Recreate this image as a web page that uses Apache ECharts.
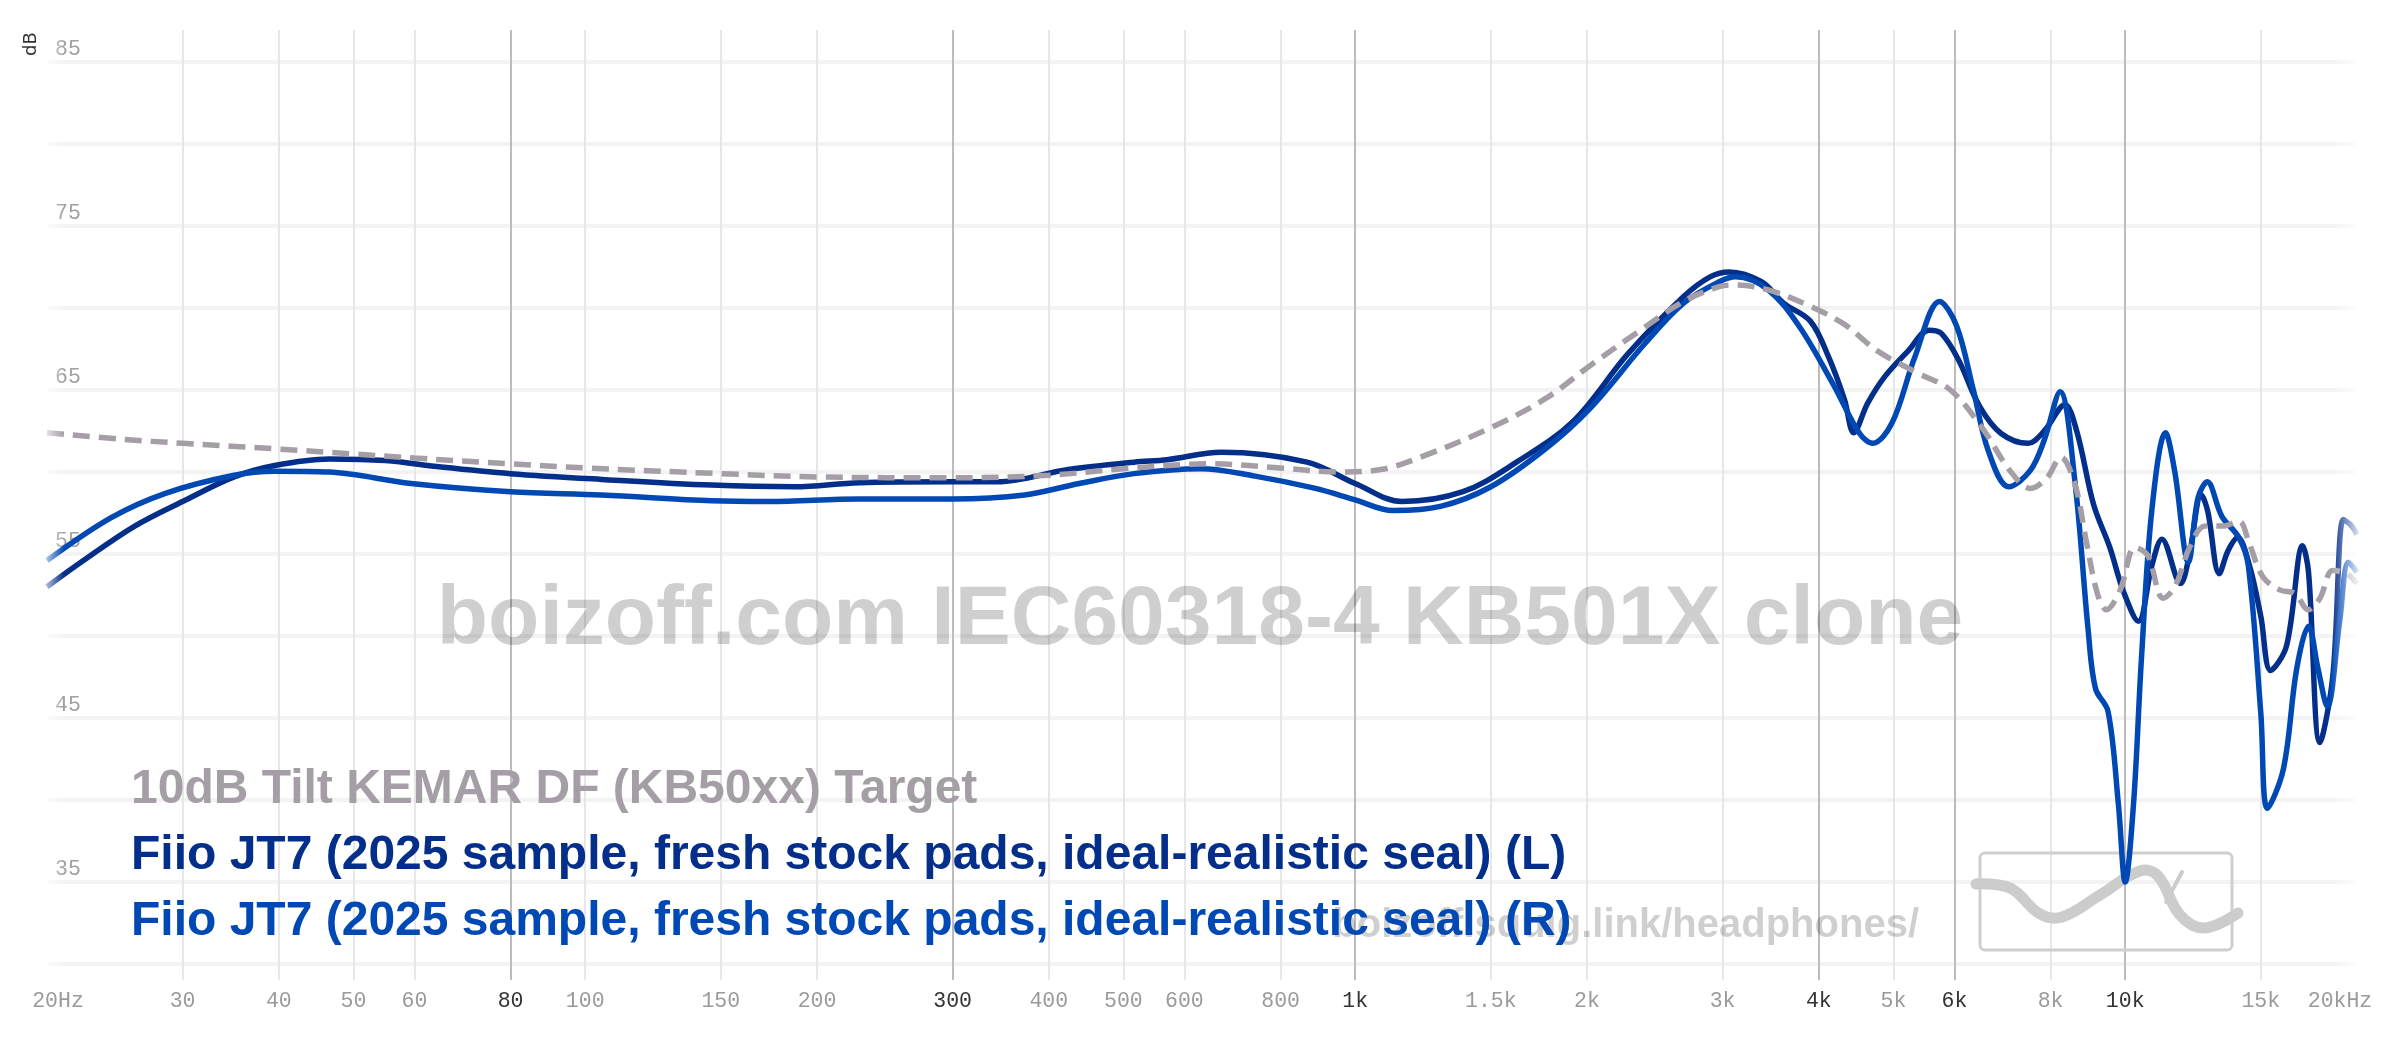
<!DOCTYPE html>
<html><head><meta charset="utf-8">
<script src="https://cdn.jsdelivr.net/npm/echarts@6/dist/echarts.min.js"></script>
<style>html,body{margin:0;padding:0;background:#fff}#c{width:2400px;height:1038px}</style>
</head><body><div id="c"></div>
<script>
// ---- data ----
const targetName = '10dB Tilt KEMAR DF (KB50xx) Target';
const leftName = 'Fiio JT7 (2025 sample, fresh stock pads, ideal-realistic seal) (L)';
const rightName = 'Fiio JT7 (2025 sample, fresh stock pads, ideal-realistic seal) (R)';

const targetFreq = [20,25,30,40,50,60,80,100,150,200,300,400,500,650,800,950,1080,1230,1500,1770,2020,2340,2670,2970,3100,3440,3900,4320,4760,5390,5930,6540,7080,7530,7900,8250,8600,8900,9200,9450,9850,10300,10700,11200,11600,12150,12700,13400,14050,14500,15100,15900,16600,17300,17900,18600,19400,20000];
const targetDb   = [62.4,62.0,61.75,61.4,61.1,60.85,60.5,60.25,59.9,59.7,59.65,59.8,60.2,60.5,60.25,60.0,60.15,61.0,62.7,64.5,66.5,68.6,70.4,71.3,71.4,71.1,70.1,69.0,67.4,66.0,65.0,62.6,60.1,59.0,59.6,60.9,59.3,55.8,52.6,51.6,52.8,55.4,54.9,52.3,53.0,55.5,56.7,56.7,57.0,55.6,53.6,52.8,52.6,51.6,52.3,54.0,53.8,53.2];

const leftFreq = [20,22.3,26,30,35,39.5,46.5,55,65,80,105,146,187,227,300,343,424,516,570,670,866,1000,1150,1380,1620,1920,2260,2670,2890,3060,3370,3600,3900,4120,4320,4440,4630,4870,5230,5560,5770,6080,6470,6900,7480,7850,8350,8650,9100,9550,9950,10400,10830,11160,11800,12100,12560,12800,13250,13600,14000,14500,15000,15450,16200,17000,17300,17900,18600,19200,19600,20000];
const leftDb   = [53.0,54.6,56.7,58.2,59.7,60.4,60.8,60.7,60.3,59.9,59.55,59.2,59.1,59.35,59.4,59.4,60.15,60.6,60.75,61.2,60.6,59.3,58.2,58.8,60.6,63.1,67.2,70.7,71.9,72.2,71.6,70.3,69.2,67.0,64.4,62.4,64.2,65.8,67.4,68.65,68.45,66.8,64.0,62.35,61.75,62.5,64.1,62.5,58.0,55.4,52.7,50.9,54.3,55.9,53.2,54.8,58.6,57.6,53.8,55.2,56.0,54.3,51.2,47.9,49.4,55.5,53.9,43.5,47.5,57.1,56.8,56.2];

const rightFreq = [20,24.2,28.5,35,39.5,46.5,59.4,80,105,146,173,227,300,372,438,516,630,741,888,1000,1120,1290,1500,1770,2020,2380,2670,2970,3120,3440,3770,4170,4520,4700,4980,5330,5740,6040,6350,6640,7060,7530,7850,8230,8600,8950,9150,9500,9800,10000,10250,10500,10830,11280,11600,12080,12430,12780,13350,14050,14450,15000,15300,16050,16700,17300,17800,18300,19000,19500,20000];
const rightDb   = [54.6,57.2,58.7,59.8,60.05,60.0,59.3,58.8,58.6,58.25,58.2,58.35,58.35,58.6,59.3,59.9,60.2,59.75,59.0,58.3,57.65,57.9,59.1,61.45,63.9,67.85,70.3,71.6,71.9,71.1,68.9,65.4,62.35,61.75,63.0,67.0,70.4,68.9,65.0,61.3,59.1,60.1,61.95,64.9,59.5,50.4,46.8,45.4,39.7,35.0,39.7,48.7,57.7,62.4,60.0,54.5,58.4,59.4,57.3,56.0,54.3,45.3,39.5,41.9,48.0,50.6,48.0,45.7,51.0,54.5,53.9];

const gridTicksMinor = [30,40,50,60,100,150,200,400,500,600,800,1500,2000,3000,5000,8000,15000];
const gridTicksMajor = [80,300,1000,4000,6000,10000];
const labelFreqsMinor = [20,30,40,50,60,100,150,200,400,500,600,800,1500,2000,3000,5000,8000,15000,20000];
const labelFreqsMajor = [80,300,1000,4000,6000,10000];
const labelFreqs = [20,30,40,50,60,80,100,150,200,300,400,500,600,800,1000,1500,2000,3000,4000,5000,6000,8000,10000,15000,20000];
const labelTexts = ['20Hz','30','40','50','60','80','100','150','200','300','400','500','600','800','1k','1.5k','2k','3k','4k','5k','6k','8k','10k','15k','20kHz'];
const yMin = 30, yMax = 85, yStep = 5;

// ---- helpers ----
function pairs(f, d) { return f.map((v, i) => [v, d[i]]); }
function freqLabel(v) {
  let best = 0, bd = Infinity;
  labelFreqs.forEach((f, i) => { const dd = Math.abs(Math.log(v / f)); if (dd < bd) { bd = dd; best = i; } });
  const t = labelTexts[best];
  if (best === 0) return '{l|' + t + '}';
  if (best === labelFreqs.length - 1) return '{r|' + t + '}';
  return t;
}
const monoFont = '"Liberation Mono", "DejaVu Sans Mono", monospace';
const monoSize = 21.5;
const sansBold = '"Liberation Sans", Arial, sans-serif';
const gray = '#a59ea7', navy = '#032e8a', blue = '#0049b5';

const chart = echarts.init(document.getElementById('c'), null, { renderer: 'canvas' });
const edgeRich = (col) => ({
  l: { padding: [0, 0, 0, 22], fontFamily: monoFont, fontSize: monoSize, color: col },
  r: { padding: [0, 34, 0, 0], fontFamily: monoFont, fontSize: monoSize, color: col }
});
const fadeL = { type: 'linear', x: 0, y: 0, x2: 1, y2: 0, colorStops: [{ offset: 0, color: 'rgba(255,255,255,1)' }, { offset: 1, color: 'rgba(255,255,255,0)' }] };
const fadeR = { type: 'linear', x: 0, y: 0, x2: 1, y2: 0, colorStops: [{ offset: 0, color: 'rgba(255,255,255,0)' }, { offset: 1, color: 'rgba(255,255,255,1)' }] };

chart.setOption({
  animation: false,
  backgroundColor: '#ffffff',
  grid: [
    { left: 47, right: 43, top: 62, bottom: 74 },
    { left: 47, right: 43, top: 30, bottom: 58 }
  ],
  xAxis: [
    { type: 'log', gridIndex: 0, min: 20, max: 20000, show: false },
    { type: 'log', gridIndex: 1, position: 'bottom', min: 20, max: 20000,
      axisLine: { show: false }, splitLine: { show: false }, minorTick: { show: false },
      axisTick: { show: true, inside: true, length: 950, customValues: gridTicksMinor, lineStyle: { color: '#e7e7e7', width: 2 } },
      axisLabel: { show: true, customValues: labelFreqsMinor, margin: 10, fontFamily: monoFont, fontSize: monoSize, color: '#9a9a9a', formatter: freqLabel, rich: edgeRich('#9a9a9a') } },
    { type: 'log', gridIndex: 1, position: 'bottom', min: 20, max: 20000,
      axisLine: { show: false }, splitLine: { show: false }, minorTick: { show: false },
      axisTick: { show: true, inside: true, length: 950, customValues: gridTicksMajor, lineStyle: { color: '#bcbcbc', width: 2 } },
      axisLabel: { show: true, customValues: labelFreqsMajor, margin: 10, fontFamily: monoFont, fontSize: monoSize, color: '#333333', formatter: freqLabel } }
  ],
  yAxis: [
    { type: 'value', gridIndex: 0, min: yMin, max: yMax, interval: yStep,
      axisLine: { show: false }, axisTick: { show: false },
      splitLine: { show: true, lineStyle: { color: '#f3f3f3', width: 4 } },
      axisLabel: { inside: true, margin: 8, align: 'left', verticalAlign: 'bottom', padding: [0, 0, 2, 0],
        fontFamily: monoFont, fontSize: monoSize, color: '#a0a0a0',
        formatter: (v) => (v % 10 === 5 ? String(v) : '') } },
    { type: 'value', gridIndex: 1, min: 0, max: 1, show: false }
  ],
  legend: {
    orient: 'vertical', left: 121, top: 761, itemGap: 18, icon: 'none', itemWidth: 0, itemHeight: 20,
    selectedMode: false,
    textStyle: { fontFamily: sansBold, fontWeight: 'bold', fontSize: 48 },
    data: [
      { name: targetName, textStyle: { color: gray } },
      { name: leftName, textStyle: { color: navy } },
      { name: rightName, textStyle: { color: blue } }
    ]
  },
  graphic: [
    { type: 'text', x: 31, y: 44, rotation: Math.PI / 2, z: 5,
      style: { text: 'dB', fontFamily: '"DejaVu Sans", sans-serif', fontSize: 18, fill: '#333', align: 'center', verticalAlign: 'middle' } },
    { type: 'text', x: 1200, y: 621, z: 1,
      style: { text: 'boizoff.com IEC60318-4 KB501X clone', fontFamily: sansBold, fontWeight: 'bold', fontSize: 84, fill: 'rgba(0,0,0,0.19)', align: 'center', verticalAlign: 'middle' } },
    { type: 'text', x: 1919, y: 926, z: 1,
      style: { text: 'boizoff.squig.link/headphones/', fontFamily: sansBold, fontWeight: 'bold', fontSize: 40, fill: 'rgba(0,0,0,0.19)', align: 'right', verticalAlign: 'middle' } },
    { type: 'rect', z: 1, shape: { x: 1980, y: 853, width: 252, height: 97, r: 5 },
      style: { fill: 'none', stroke: '#cfcfcf', lineWidth: 3 } },
    { type: 'polyline', z: 1, shape: { points: [[1976, 884], [2010, 888], [2040, 914], [2062, 917], [2100, 895], [2140, 871], [2158, 876], [2180, 915], [2204, 928], [2238, 913]], smooth: 0.4 },
      style: { fill: 'none', stroke: '#cccccc', lineWidth: 11, lineCap: 'round' } },
    { type: 'line', z: 1, shape: { x1: 2182, y1: 872, x2: 2166, y2: 902 },
      style: { stroke: '#cccccc', lineWidth: 4, lineCap: 'round' } },
    { type: 'rect', z: 100, shape: { x: 38, y: 30, width: 26, height: 950 }, style: { fill: fadeL } },
    { type: 'rect', z: 100, shape: { x: 2331, y: 30, width: 32, height: 950 }, style: { fill: fadeR } }
  ],
  series: [
    { name: leftName, type: 'line', xAxisIndex: 0, yAxisIndex: 0, data: pairs(leftFreq, leftDb), smooth: 0.35, symbol: 'none', z: 3,
      lineStyle: { color: navy, width: 5.5 }, itemStyle: { color: navy } },
    { name: rightName, type: 'line', xAxisIndex: 0, yAxisIndex: 0, data: pairs(rightFreq, rightDb), smooth: 0.35, symbol: 'none', z: 4,
      lineStyle: { color: blue, width: 5.5 }, itemStyle: { color: blue } },
    { name: targetName, type: 'line', xAxisIndex: 0, yAxisIndex: 0, data: pairs(targetFreq, targetDb), smooth: 0.35, symbol: 'none', z: 5,
      lineStyle: { color: gray, width: 5.5, type: [17, 9] }, itemStyle: { color: gray } }
  ]
});
</script></body></html>
